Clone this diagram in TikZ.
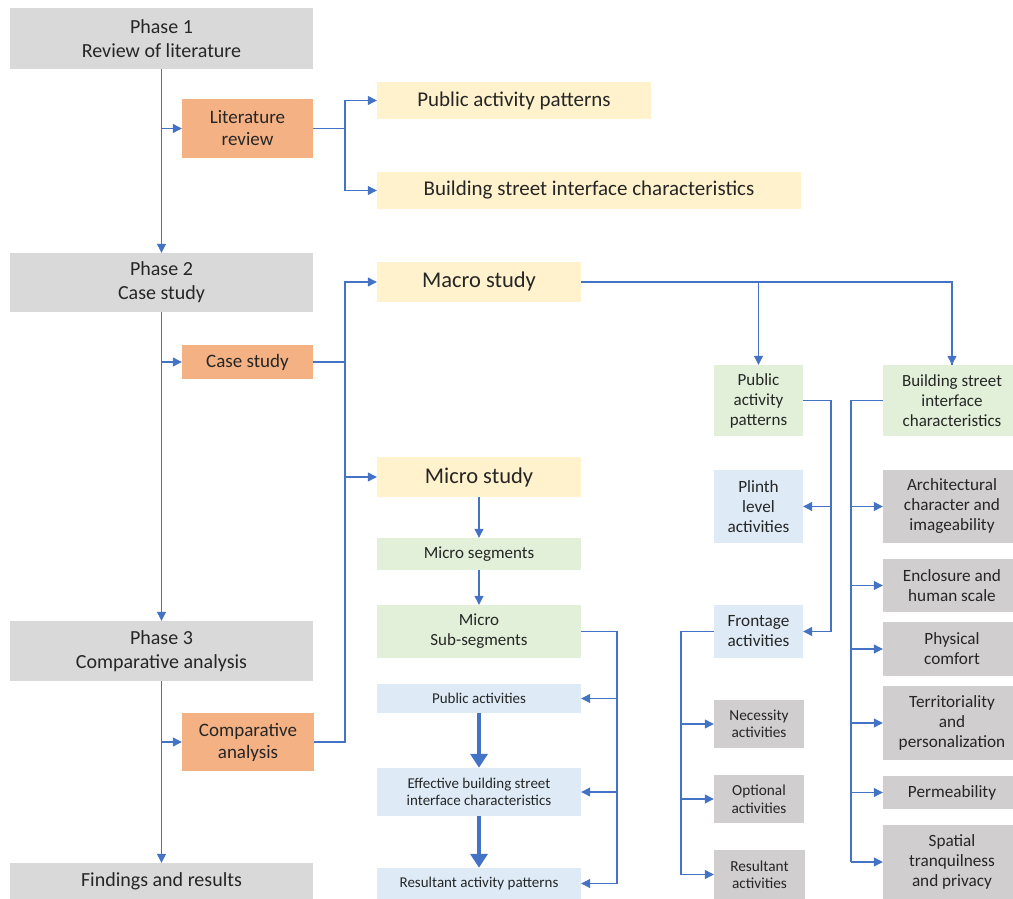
\documentclass[tikz,border=0pt]{standalone}
\usepackage{fontspec}
\setmainfont{Carlito}
\usetikzlibrary{arrows.meta}
\definecolor{phgray}{HTML}{D9D9D9}
\definecolor{dgray}{HTML}{D0CECE}
\definecolor{orng}{HTML}{F4B183}
\definecolor{ylw}{HTML}{FFF2CC}
\definecolor{grn}{HTML}{E2F0D9}
\definecolor{blu}{HTML}{DEEBF7}
\definecolor{lblue}{HTML}{4472C4}
\definecolor{txt}{HTML}{262626}
\tikzset{
  box/.style={inner sep=0pt, align=center, text=txt},
  phase/.style={fill=phgray, font=\fontsize{20}{24}\selectfont},
  orbox/.style={fill=orng, font=\fontsize{19}{22}\selectfont},
  ybox/.style={fill=ylw, font=\fontsize{21}{24}\selectfont},
  ybig/.style={fill=ylw, font=\fontsize{22.5}{26}\selectfont},
  gbox/.style={fill=grn, font=\fontsize{17}{20}\selectfont},
  bbox/.style={fill=blu, font=\fontsize{15}{17}\selectfont},
  rgbox/.style={fill=grn, font=\fontsize{17}{20}\selectfont},
  rbbox/.style={fill=blu, font=\fontsize{17.2}{20}\selectfont},
  sgbox/.style={fill=dgray, font=\fontsize{15.3}{17.5}\selectfont},
  lgbox/.style={fill=dgray, font=\fontsize{17.2}{20}\selectfont},
  ln/.style={draw=lblue, line width=1.2pt},
  arr/.style={ln, -{Triangle[length=9pt,width=9pt]}},
  tarr/.style={draw=lblue, line width=4pt, -{Triangle[length=14pt,width=17pt]}},
}
\newcommand\bx[7]{\node[box,#6,minimum width=#4pt-#2pt,minimum height=#5pt-#3pt] (#1) at ({(#2+#4)/2},{(#3+#5)/2}) {#7};}
\begin{document}
\begin{tikzpicture}[x=1pt,y=-1pt]
\useasboundingbox (0,0) rectangle (1013,899);
% left column
\bx{p1}{10}{8}{313}{69}{phase}{Phase 1\\Review of literature}
\bx{lr}{182}{99}{313}{158}{orbox}{Literature\\review}
\bx{p2}{10}{253}{313}{312}{phase}{Phase 2\\Case study}
\bx{cs}{182}{345}{313}{379}{orbox}{Case study}
\bx{p3}{10}{621}{313}{681}{phase}{Phase 3\\Comparative analysis}
\bx{ca}{182}{713}{314}{771}{orbox}{Comparative\\analysis}
\bx{fr}{10}{863}{313}{899}{phase}{Findings and results}
% middle column
\bx{yap}{377}{82}{651}{119}{ybox}{Public activity patterns}
\bx{ybs}{377}{172}{801}{209}{ybox}{Building street interface characteristics}
\bx{macro}{377}{262}{581}{302}{ybig}{Macro study}
\bx{micro}{377}{457}{581}{497}{ybig}{Micro study}
\bx{mseg}{377}{538}{581}{570}{gbox}{Micro segments}
\bx{mss}{377}{605}{581}{658}{gbox}{Micro\\Sub-segments}
\bx{pact}{377}{684}{581}{713}{bbox}{Public activities}
\bx{eff}{377}{768}{581}{816}{bbox}{Effective building street\\interface characteristics}
\bx{rap}{377}{868}{581}{899}{bbox}{Resultant activity patterns}
% right columns
\bx{pap}{714}{365}{803}{436}{rgbox}{Public\\activity\\patterns}
\bx{bsi}{883}{365}{1021}{436}{rgbox}{Building street\\interface\\characteristics}
\bx{plinth}{714}{470}{803}{543}{rbbox}{Plinth\\level\\activities}
\bx{front}{714}{605}{803}{658}{rbbox}{Frontage\\activities}
\bx{nec}{714}{700}{804}{748}{sgbox}{Necessity\\activities}
\bx{opt}{714}{775}{804}{823}{sgbox}{Optional\\activities}
\bx{res}{714}{850}{805}{899}{sgbox}{Resultant\\activities}
\bx{arch}{883}{470}{1021}{543}{lgbox}{Architectural\\character and\\imageability}
\bx{encl}{883}{559}{1021}{612}{lgbox}{Enclosure and\\human scale}
\bx{phys}{883}{622}{1021}{676}{lgbox}{Physical\\comfort}
\bx{terr}{883}{686}{1021}{760}{lgbox}{Territoriality\\and\\personalization}
\bx{perm}{883}{776}{1021}{809}{lgbox}{Permeability}
\bx{spat}{883}{825}{1021}{899}{lgbox}{Spatial\\tranquilness\\and privacy}
% junction columns
\coordinate (jA) at (345,0);
\coordinate (jB) at (617,0);
\coordinate (jC) at (831,0);
\coordinate (jD) at (851,0);
\coordinate (jE) at (681,0);
% phase flow
\draw[arr] (p1) -- (p2);
\draw[arr] (p2) -- (p3);
\draw[arr] (p3) -- (fr);
\draw[arr] (p1.south |- lr.west) -- (lr.west);
\draw[arr] (p2.south |- cs.west) -- (cs.west);
\draw[arr] (p3.south |- ca.west) -- (ca.west);
% literature review
\draw[ln] (lr.east) -- (lr.east -| jA);
\draw[arr] (lr.east -| jA) |- (yap.west);
\draw[arr] (lr.east -| jA) |- (ybs.west);
% case study
\draw[ln] (cs.east) -- (cs.east -| jA);
\draw[arr] (cs.east -| jA) |- (macro.west);
\draw[arr] (cs.east -| jA) |- (micro.west);
\draw[ln] (ca.east) -| (micro.west -| jA);
% macro
\draw[ln] (macro.east) -| (bsi.north);
\draw[arr] (macro.east -| bsi.north) -- (bsi.north);
\draw[arr] (macro.east -| pap.north) -- (pap.north);
% micro
\draw[arr] (micro) -- (mseg);
\draw[arr] (mseg) -- (mss);
\draw[ln] (mss.east) -| (rap.east -| jB);
\draw[arr] (pact.east -| jB) -- (pact.east);
\draw[arr] (eff.east -| jB) -- (eff.east);
\draw[arr] (rap.east -| jB) -- (rap.east);
\draw[tarr] (pact) -- (eff);
\draw[tarr] (eff) -- (rap);
% public activity patterns
\draw[ln] (pap.east) -| (front.east -| jC);
\draw[arr] (plinth.east -| jC) -- (plinth.east);
\draw[arr] (front.east -| jC) -- (front.east);
% frontage
\draw[ln] (front.west) -| (res.west -| jE);
\draw[arr] (nec.west -| jE) -- (nec.west);
\draw[arr] (opt.west -| jE) -- (opt.west);
\draw[arr] (res.west -| jE) -- (res.west);
% building street interface
\draw[ln] (bsi.west) -| (spat.west -| jD);
\draw[arr] (arch.west -| jD) -- (arch.west);
\draw[arr] (encl.west -| jD) -- (encl.west);
\draw[arr] (phys.west -| jD) -- (phys.west);
\draw[arr] (terr.west -| jD) -- (terr.west);
\draw[arr] (perm.west -| jD) -- (perm.west);
\draw[arr] (spat.west -| jD) -- (spat.west);
\end{tikzpicture}
\end{document}
